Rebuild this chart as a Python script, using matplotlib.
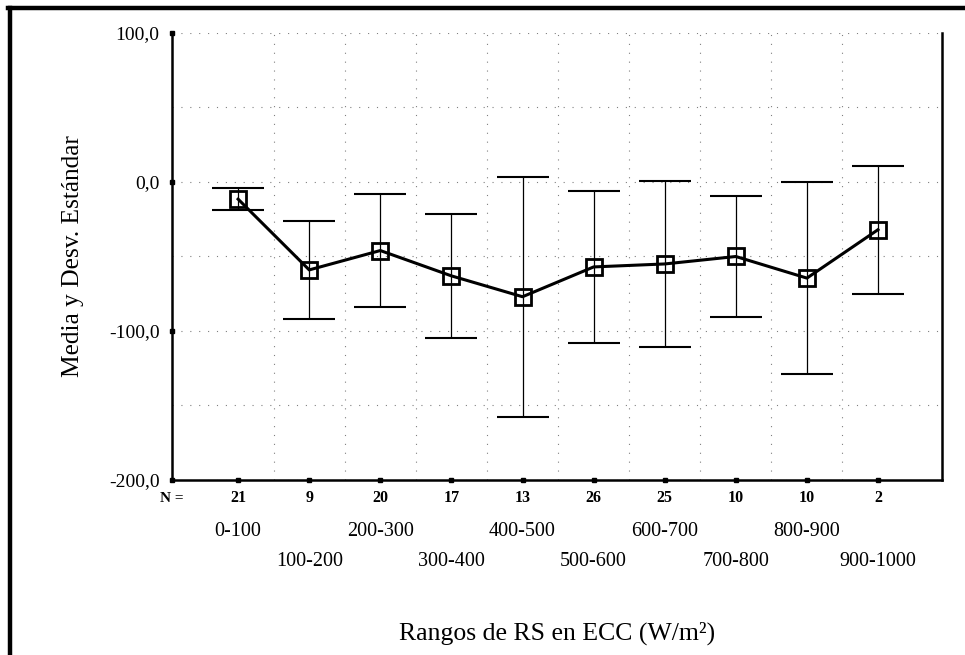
import matplotlib
matplotlib.use("Agg")
from matplotlib import pyplot as plt
from matplotlib.lines import Line2D
from matplotlib.ticker import MultipleLocator, FixedLocator
from matplotlib.transforms import blended_transform_factory

plt.rcParams["font.family"] = ["Liberation Serif", "DejaVu Serif"]

rangos = ["0-100", "100-200", "200-300", "300-400", "400-500",
          "500-600", "600-700", "700-800", "800-900", "900-1000"]
n_casos = [21, 9, 20, 17, 13, 26, 25, 10, 10, 2]
medias = [-11.5, -59, -46, -63, -77, -57, -55, -50, -64.5, -32]
desv = [7.5, 33, 38, 41.5, 80.5, 51, 56, 40.5, 64.5, 43]
y_ticks = [-200, -100, 0, 100]
y_labels = ["-200,0", "-100,0", "0,0", "100,0"]

fig = plt.figure(figsize=(9.65, 6.55), dpi=100)
ax = fig.add_axes([172 / 965, 175 / 655, 770 / 965, 447 / 655])

x = list(range(1, len(rangos) + 1))

ax.errorbar(x, medias, yerr=desv, fmt="none", ecolor="black",
            elinewidth=0.9, capsize=18.5, capthick=1.5, zorder=3)
ax.plot(x, medias, color="black", linewidth=2.2, marker="s",
        markersize=12, markerfacecolor="none", markeredgewidth=2,
        markeredgecolor="black", zorder=4)

ax.set_xlim(0.07, 10.9)
ax.set_ylim(-200, 100)

# grid: dotted lines between categories and every 50 units
ax.yaxis.set_major_locator(FixedLocator(y_ticks))
ax.yaxis.set_minor_locator(MultipleLocator(50))
ax.set_yticklabels(y_labels)
ax.xaxis.set_major_locator(FixedLocator(x))
ax.xaxis.set_minor_locator(FixedLocator([i + 0.5 for i in x[:-1]]))
ax.set_xticklabels([])
ax.grid(True, which="minor", color="black", linestyle=(0, (1, 7)),
        linewidth=0.8, alpha=0.5)
ax.grid(True, which="major", axis="y", color="black",
        linestyle=(0, (1, 7)), linewidth=0.8, alpha=0.5)
ax.tick_params(which="both", length=0)
ax.tick_params(axis="y", labelsize=14, pad=9)

ax.spines["top"].set_visible(False)
for s in ["left", "bottom", "right"]:
    ax.spines[s].set_linewidth(1.8)

# small square tick marks on the axes
ax.plot([0.07] * len(y_ticks), y_ticks, "s", color="black", markersize=3,
        clip_on=False, zorder=5)
ax.plot(x, [-200] * len(x), "s", color="black", markersize=3.5,
        clip_on=False, zorder=5)

trans = blended_transform_factory(ax.transData, fig.transFigure)
ax.text(0.07, 157 / 655, "N =", transform=trans, ha="center", va="center",
        fontsize=11, fontweight="bold")
for xi, n in zip(x, n_casos):
    ax.text(xi, 157 / 655, str(n), transform=trans, ha="center",
            va="center", fontsize=11.5, fontweight="bold")
for xi, lab in zip(x, rangos):
    yrow = 123 / 655 if xi % 2 == 1 else 93 / 655
    ax.text(xi, yrow, lab, transform=trans, ha="center", va="center",
            fontsize=14.5)

fig.text(557 / 965, 22 / 655, "Rangos de RS en ECC (W/m²)", ha="center",
         va="center", fontsize=18.5)
fig.text(73 / 965, 399 / 655, "Media y Desv. Estándar", ha="center",
         va="center", rotation=90, fontsize=18.3)

# thick frame around the chart (top and left)
fig.add_artist(Line2D([10 / 965, 10 / 965], [0, 647 / 655],
                      color="black", linewidth=3.2))
fig.add_artist(Line2D([8 / 965, 1], [647 / 655, 647 / 655],
                      color="black", linewidth=3.2))

fig.savefig("out.png", dpi=100)
